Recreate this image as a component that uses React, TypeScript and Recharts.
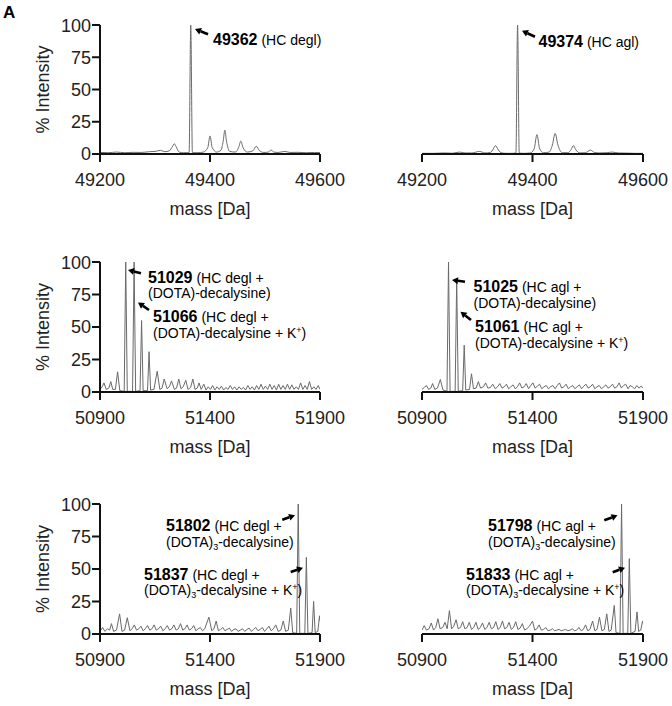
import React from 'react';
import { LineChart, Line, XAxis, YAxis } from 'recharts';

const FONT = '"Liberation Sans", Arial, Helvetica, sans-serif';

// tick labels
const hcTicks = [49200, 49400, 49600];
const conjTicks = [50900, 51400, 51900];
const yTicks = [0, 25, 50, 75, 100];

// [mass (Da), % intensity]
const hcDegl: [number, number][] = [
  [49200, 1.2], [49215, 1.0], [49230, 1.5], [49245, 1.0], [49260, 1.3], [49275, 1.2], [49290, 1.8],
  [49300, 2.0], [49310, 2.8], [49318, 1.8], [49326, 2.5], [49332, 6], [49335, 8], [49338, 6],
  [49344, 1.5], [49352, 1.0], [49360, 1.0], [49362, 1.0], [49365, 100], [49368, 1.0], [49378, 1.0],
  [49388, 1.5], [49396, 5], [49400, 14], [49404, 5], [49412, 1.5], [49420, 3], [49424, 10],
  [49427, 18.5], [49430, 10], [49436, 2], [49446, 1.5], [49452, 5], [49456, 10], [49460, 5],
  [49468, 1.5], [49478, 2.5], [49484, 6], [49490, 2.5], [49498, 1.2], [49506, 1.5], [49511, 3],
  [49516, 1.5], [49524, 1.2], [49536, 2], [49545, 1.2], [49560, 1.3], [49575, 1.0], [49590, 1.2],
  [49600, 1.0],
];

const hcAgl: [number, number][] = [
  [49200, 0.5], [49220, 0.5], [49240, 0.8], [49255, 0.6], [49268, 1.5], [49278, 0.8], [49290, 0.8],
  [49304, 2.0], [49314, 0.8], [49324, 1.2], [49329, 4], [49333, 6.5], [49337, 4], [49343, 1.0],
  [49352, 0.5], [49362, 0.5], [49370, 0.8], [49373, 100], [49376, 0.8], [49384, 0.5], [49396, 0.8],
  [49403, 4], [49408, 15], [49413, 4], [49420, 1.0], [49430, 1.5], [49436, 7], [49441, 16],
  [49446, 7], [49454, 1.0], [49464, 1.0], [49470, 3.5], [49474, 6.5], [49478, 3.5], [49486, 0.8],
  [49496, 1.0], [49505, 3], [49512, 1.2], [49522, 0.8], [49535, 1.0], [49544, 1.5], [49555, 0.8],
  [49570, 0.7], [49585, 0.5], [49600, 0.5],
];

const deglDota: [number, number][] = [
  [50900, 2], [50910, 4], [50918, 7], [50928, 2], [50940, 3], [50949, 8], [50958, 2], [50970, 2],
  [50980, 15.5], [50990, 1], [51010, 0.5], [51017, 100], [51024, 0.5], [51048, 0.5], [51055, 100],
  [51062, 0.5], [51082, 1], [51089, 55], [51096, 1], [51116, 1], [51123, 31], [51130, 1.5],
  [51145, 2], [51160, 16], [51172, 2], [51182, 3], [51192, 10], [51205, 2.5], [51215, 4],
  [51225, 8.5], [51238, 2], [51248, 3], [51258, 10], [51268, 2.5], [51278, 4], [51290, 9],
  [51300, 2], [51312, 3.5], [51322, 10], [51332, 2], [51342, 3], [51350, 7], [51360, 2],
  [51372, 6], [51382, 1.5], [51392, 4], [51402, 2], [51412, 5], [51422, 1.5], [51432, 4],
  [51442, 2], [51452, 4.5], [51462, 1.5], [51472, 3.5], [51482, 2], [51492, 5], [51502, 2],
  [51512, 4], [51522, 1.5], [51532, 4], [51542, 2], [51552, 3.5], [51562, 1.5], [51572, 5],
  [51582, 2], [51592, 4], [51602, 1.5], [51612, 5], [51622, 2], [51632, 6], [51642, 2],
  [51652, 4.5], [51662, 2], [51672, 6], [51682, 2], [51692, 5], [51702, 1.5], [51712, 6],
  [51722, 2], [51732, 5], [51742, 2], [51752, 6], [51762, 2], [51772, 5.5], [51782, 2],
  [51792, 4], [51802, 2], [51812, 7], [51822, 2], [51832, 5], [51842, 2], [51852, 8],
  [51862, 2], [51872, 4], [51882, 2], [51892, 5], [51900, 2],
];

const aglDota: [number, number][] = [
  [50900, 2], [50910, 3.5], [50920, 5], [50930, 2], [50940, 3], [50948, 6.5], [50958, 2],
  [50970, 3], [50983, 9.6], [50995, 1.5], [51013, 0.5], [51020, 100], [51027, 0.5], [51050, 0.5],
  [51057, 87], [51064, 0.5], [51084, 1], [51091, 36], [51098, 1.5], [51115, 2], [51124, 14],
  [51133, 2.5], [51145, 3], [51155, 8], [51165, 3], [51178, 4], [51188, 7], [51198, 3],
  [51210, 3.5], [51220, 6], [51232, 2.5], [51242, 4], [51252, 6.5], [51262, 3], [51272, 4],
  [51282, 6], [51292, 2.5], [51302, 4], [51312, 5.5], [51322, 2.5], [51332, 4], [51342, 7],
  [51352, 3], [51362, 4], [51372, 6.5], [51382, 2.5], [51392, 5], [51402, 7], [51412, 3],
  [51422, 4.5], [51432, 6], [51442, 2.5], [51452, 4], [51462, 5], [51472, 2.5], [51482, 4],
  [51492, 5], [51502, 2.5], [51512, 5], [51522, 7], [51532, 3], [51542, 4], [51552, 6],
  [51562, 2.5], [51572, 4], [51582, 5], [51592, 2.5], [51602, 4], [51612, 5.5], [51622, 2.5],
  [51632, 4.5], [51642, 6], [51652, 3], [51662, 4], [51672, 6], [51682, 2.5], [51692, 4],
  [51702, 5], [51712, 2.5], [51722, 4], [51732, 5.5], [51742, 3], [51752, 4], [51762, 6],
  [51772, 3], [51782, 4], [51792, 7], [51802, 3], [51812, 5], [51822, 6], [51832, 2.5],
  [51842, 5], [51852, 4], [51862, 2.5], [51872, 5], [51882, 3], [51892, 4.5], [51900, 3],
];

const deglDota3: [number, number][] = [
  [50900, 2], [50912, 5], [50922, 2], [50934, 4], [50944, 3], [50952, 8], [50962, 2], [50975, 3],
  [50989, 15.5], [51000, 2], [51012, 3], [51024, 12.5], [51036, 2.5], [51046, 4], [51056, 7],
  [51066, 3], [51076, 4], [51086, 6], [51096, 2.5], [51106, 4], [51116, 6.5], [51126, 3],
  [51136, 4], [51146, 7], [51156, 3], [51166, 4], [51176, 6], [51186, 2.5], [51196, 4],
  [51206, 6.5], [51216, 3], [51226, 4], [51236, 7], [51246, 3], [51256, 4], [51266, 8],
  [51276, 3], [51286, 4], [51296, 7], [51306, 3], [51316, 4], [51326, 6.5], [51336, 2.5],
  [51346, 4], [51356, 5], [51366, 2.5], [51376, 4], [51395, 13], [51408, 2.5], [51418, 4],
  [51428, 10], [51438, 2.5], [51448, 3.5], [51458, 5], [51468, 2.5], [51478, 3.5], [51488, 4.5],
  [51498, 2], [51508, 3.5], [51518, 4], [51528, 2], [51538, 3], [51548, 4], [51558, 2],
  [51568, 3.5], [51578, 4.5], [51588, 2], [51598, 3.5], [51608, 5], [51618, 2.5], [51628, 3.5],
  [51638, 5], [51648, 2], [51658, 4], [51668, 6], [51678, 2.5], [51688, 4], [51699, 7],
  [51710, 2], [51722, 3], [51733, 10], [51744, 2], [51756, 3], [51767, 20], [51776, 1],
  [51794, 0.5], [51801, 100], [51808, 0.5], [51831, 0.5], [51838, 59], [51845, 0.5], [51864, 1],
  [51871, 25], [51878, 1], [51890, 2], [51898, 14], [51900, 10],
];

const aglDota3: [number, number][] = [
  [50900, 3], [50910, 6.5], [50920, 3], [50932, 4], [50942, 8.5], [50952, 3], [50962, 5],
  [50972, 11.7], [50982, 4], [50994, 5], [51004, 9], [51014, 4], [51024, 18], [51034, 4],
  [51044, 6], [51054, 11], [51064, 4], [51074, 5], [51084, 9.5], [51094, 4], [51104, 5],
  [51114, 9], [51124, 3.5], [51134, 5], [51144, 9], [51154, 3.5], [51164, 5], [51174, 8.5],
  [51184, 3.5], [51194, 5], [51204, 9], [51214, 4], [51224, 5], [51234, 9.5], [51244, 3.5],
  [51254, 5], [51264, 10], [51274, 4], [51284, 5], [51294, 9], [51304, 3.5], [51314, 5],
  [51324, 9.5], [51334, 3.5], [51344, 4.5], [51354, 8], [51364, 3], [51374, 4], [51386, 6],
  [51400, 10], [51410, 3], [51420, 4], [51430, 7], [51440, 3], [51450, 3.5], [51460, 5],
  [51470, 2.5], [51480, 3], [51490, 4], [51500, 2.5], [51510, 3], [51520, 3.5], [51530, 2.5],
  [51540, 3], [51550, 3.5], [51560, 2.5], [51570, 3], [51580, 4], [51590, 2.5], [51600, 3],
  [51610, 5], [51620, 2.5], [51630, 3.5], [51640, 7], [51650, 2.5], [51660, 3.5], [51672, 10],
  [51682, 2.5], [51692, 3.5], [51703, 13], [51714, 2.5], [51725, 3.5], [51736, 15.5], [51746, 2],
  [51756, 3], [51770, 22], [51778, 1], [51796, 0.5], [51803, 100], [51810, 0.5], [51831, 0.5],
  [51838, 58], [51845, 0.5], [51864, 2], [51873, 17], [51880, 2], [51890, 3], [51898, 10],
  [51900, 8],
];

const axisStyle = { stroke: '#111', strokeWidth: 2 };
const tickStyle = { fill: '#222', fontSize: 18, fontFamily: FONT };

function Spectrum({ points, ticks, left, top, plotHeight, showY, curve }: {
  points: [number, number][]; ticks: number[]; left: number; top: number; plotHeight: number;
  showY: boolean; curve: 'monotone' | 'linear';
}) {
  const data = points.map(([m, v]) => ({ m, v }));
  // left column charts are drawn wider so the last x tick label is not clipped
  const width = showY ? 360 : 336;
  const margin = showY
    ? { top: 10, right: 40, bottom: 0, left: 40 }
    : { top: 10, right: 29, bottom: 0, left: 86 };
  return (
    <div style={{ position: 'absolute', left, top }}>
      <LineChart width={width} height={10 + plotHeight + 70} data={data} margin={margin}>
        <XAxis
          dataKey="m"
          type="number"
          domain={[ticks[0], ticks[ticks.length - 1]]}
          ticks={ticks}
          allowDataOverflow
          height={70}
          axisLine={axisStyle}
          tickLine={axisStyle}
          tickSize={8}
          tickMargin={11}
          tick={tickStyle}
          label={{ value: 'mass [Da]', position: 'insideBottom', offset: 9, fill: '#222', fontSize: 18, fontFamily: FONT }}
        />
        <YAxis
          hide={!showY}
          type="number"
          domain={[0, 100]}
          ticks={yTicks}
          width={60}
          axisLine={axisStyle}
          tickLine={axisStyle}
          tickSize={8}
          tickMargin={1}
          tick={tickStyle}
          label={{
            value: '% Intensity', angle: -90, position: 'insideLeft', offset: 3,
            style: { textAnchor: 'middle' }, fill: '#222', fontSize: 18, fontFamily: FONT,
          }}
        />
        <Line dataKey="v" type={curve} stroke="#6a6a6a" strokeWidth={1} dot={false} isAnimationActive={false} />
      </LineChart>
    </div>
  );
}

function Arrow({ tail, tip }: { tail: [number, number]; tip: [number, number] }) {
  const dx = tip[0] - tail[0];
  const dy = tip[1] - tail[1];
  const len = Math.hypot(dx, dy);
  const ux = dx / len, uy = dy / len;
  const hl = 6, hw = 3.5;
  const bx = tip[0] - ux * hl, by = tip[1] - uy * hl;
  const head = `${tip[0]},${tip[1]} ${bx - uy * hw},${by + ux * hw} ${bx + uy * hw},${by - ux * hw}`;
  return (
    <g>
      <line x1={tail[0]} y1={tail[1]} x2={bx} y2={by} stroke="#000" strokeWidth={2.6} />
      <polygon points={head} fill="#000" />
    </g>
  );
}

function Note({ x, y, mass, rest }: { x: number; y: number; mass: string; rest: string }) {
  return (
    <text x={x} y={y} fontFamily={FONT} fill="#000">
      <tspan fontWeight="bold" fontSize={16}>{mass}</tspan>
      <tspan fontSize={14}>{' ' + rest}</tspan>
    </text>
  );
}

function Dota({ x, y, sub, kPlus }: { x: number; y: number; sub?: boolean; kPlus?: boolean }) {
  return (
    <text x={x} y={y} fontFamily={FONT} fontSize={14} fill="#000">
      (DOTA)
      {sub ? <tspan fontSize={9} dy={3}>3</tspan> : null}
      <tspan dy={sub ? -3 : 0}>{kPlus ? '-decalysine + K' : '-decalysine)'}</tspan>
      {kPlus ? <tspan fontSize={9} dy={-5}>+</tspan> : null}
      {kPlus ? <tspan dy={5}>)</tspan> : null}
    </text>
  );
}

export default function App() {
  return (
    <div style={{ position: 'absolute', left: 0, top: 0, width: 672, height: 706, background: '#fff', fontFamily: FONT }}>
      <Spectrum points={hcDegl} ticks={hcTicks} left={0} top={15} plotHeight={129} showY curve="monotone" />
      <Spectrum points={hcAgl} ticks={hcTicks} left={336} top={15} plotHeight={129} showY={false} curve="monotone" />
      <Spectrum points={deglDota} ticks={conjTicks} left={0} top={252} plotHeight={130} showY curve="linear" />
      <Spectrum points={aglDota} ticks={conjTicks} left={336} top={252} plotHeight={130} showY={false} curve="linear" />
      <Spectrum points={deglDota3} ticks={conjTicks} left={0} top={494} plotHeight={130} showY curve="linear" />
      <Spectrum points={aglDota3} ticks={conjTicks} left={336} top={494} plotHeight={130} showY={false} curve="linear" />

      <svg width={672} height={706} style={{ position: 'absolute', left: 0, top: 0, pointerEvents: 'none' }}>
        <text x={3} y={18} fontFamily={FONT} fontWeight="bold" fontSize={17} fill="#000">A</text>

        <Arrow tail={[208, 34.3]} tip={[195, 29]} />
        <Note x={213} y={44.5} mass="49362" rest="(HC degl)" />

        <Arrow tail={[535, 36.7]} tip={[522, 30.7]} />
        <Note x={538.5} y={46.5} mass="49374" rest="(HC agl)" />

        <Arrow tail={[141, 273.3]} tip={[128, 270]} />
        <Arrow tail={[149, 310]} tip={[138, 302.5]} />
        <Note x={148} y={282.5} mass="51029" rest="(HC degl +" />
        <Dota x={148} y={298} />
        <Note x={153} y={321.5} mass="51066" rest="(HC degl +" />
        <Dota x={153} y={337.5} kPlus />

        <Arrow tail={[465, 281.7]} tip={[452, 280]} />
        <Arrow tail={[471, 320]} tip={[460.5, 311.7]} />
        <Note x={473.5} y={291.5} mass="51025" rest="(HC agl +" />
        <Dota x={473.5} y={307.5} />
        <Note x={475} y={331.5} mass="51061" rest="(HC agl +" />
        <Dota x={475} y={348} kPlus />

        <Arrow tail={[282.3, 519.7]} tip={[295, 515.3]} />
        <Arrow tail={[290.7, 572]} tip={[303, 567.7]} />
        <Note x={166} y={531} mass="51802" rest="(HC degl +" />
        <Dota x={166} y={546.5} sub />
        <Note x={144} y={580.3} mass="51837" rest="(HC degl +" />
        <Dota x={144} y={595} sub kPlus />

        <Arrow tail={[604.3, 520.3]} tip={[617.5, 515.3]} />
        <Arrow tail={[612.7, 572.3]} tip={[625, 567.7]} />
        <Note x={488} y={531} mass="51798" rest="(HC agl +" />
        <Dota x={488} y={546.5} sub />
        <Note x={466} y={580.3} mass="51833" rest="(HC agl +" />
        <Dota x={466} y={595} sub kPlus />
      </svg>
    </div>
  );
}
